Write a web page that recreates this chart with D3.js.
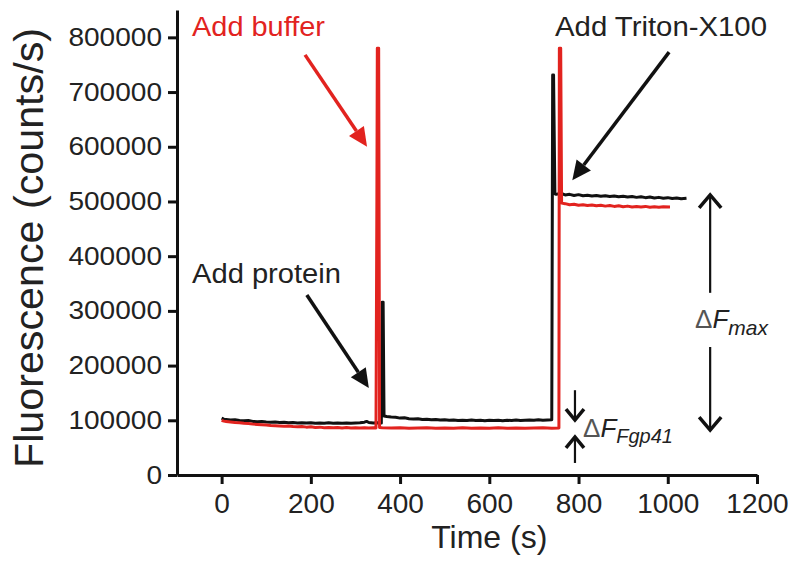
<!DOCTYPE html>
<html>
<head>
<meta charset="utf-8">
<script src="https://cdn.jsdelivr.net/npm/d3@7"></script>
<style>
  html, body { margin: 0; padding: 0; background: #fff; }
  svg { display: block; }
  text { font-family: "Liberation Sans", Arial, sans-serif; }
</style>
</head>
<body>
<svg id="chart" width="799" height="567"></svg>
<script>
// ---------- DATA ----------
const xTickValues = [0, 200, 400, 600, 800, 1000, 1200];
const yTickValues = [0, 100000, 200000, 300000, 400000, 500000, 600000, 700000, 800000];

// Black trace (protein sample): [time (s), fluorescence (counts/s)]
const blackTime = [0,5,10,20,30,40,50,60,70,80,90,100,110,120,130,140,150,160,170,180,190,200,210,220,230,240,250,260,270,280,290,300,310,320,325,330,340,350,358,
  360,362,364,
  370,380,390,400,410,420,430,440,450,460,470,480,490,500,510,520,530,540,550,560,570,580,590,600,610,620,630,640,650,660,670,680,690,700,710,720,730,740,
  742,744,747,
  750,760,770,780,790,800,810,820,830,840,850,860,870,880,890,900,910,920,930,940,950,960,970,980,990,1000,1010,1020,1030,1042];
const blackValue = [104000,102000,101500,100500,101000,99500,99000,99500,98000,97500,98000,97000,96500,97000,96000,96500,95500,96000,95000,95500,95000,95500,94500,95000,94500,95500,94500,95000,94500,95000,94500,95000,95500,96500,98000,96000,95000,95500,95000,
  316000,316000,108000,
  107000,106000,105500,104000,104500,103000,102500,103000,101500,102000,101000,101500,100500,101000,100000,100500,99500,100000,99500,100500,99500,100000,99000,100000,99500,100000,99000,100000,99500,100500,99500,100000,100500,100000,101000,100000,100500,101000,
  731000,731000,514000,
  513000,515000,512000,513000,511000,512500,510500,511500,510000,511000,509500,510500,509000,510000,508500,509500,508000,509000,507500,508500,507000,508000,506500,507500,506000,507000,505500,506500,505000,506000];

// Red trace (buffer control)
const redTime = [0,5,10,20,30,40,50,60,70,80,90,100,110,120,130,140,150,160,170,180,190,200,210,220,230,240,250,260,270,280,290,300,310,320,330,340,346,
  348,349,352,354,
  360,380,400,420,440,460,480,500,520,540,560,580,600,620,640,660,680,700,720,740,756,
  757,760,762,
  770,780,790,800,810,820,830,840,850,860,870,880,890,900,910,920,930,940,950,960,970,980,990,1005];
const redValue = [100000,98500,98000,97000,96000,95500,94500,94000,93000,92500,92000,91500,90500,90000,89500,89000,89500,88500,88000,88500,87500,88000,87000,87500,86500,87000,86500,87000,86000,87000,86000,86500,86000,86500,86000,86500,86000,
  500000,780000,780000,87000,
  86500,86000,86500,85500,86000,86500,85500,86000,85500,86500,85500,86000,85500,86500,85500,86000,85500,86000,86500,85500,86000,
  780000,780000,497000,
  496000,494000,495000,493000,494000,492500,493500,492000,493000,491500,492500,491000,492000,490500,491500,490000,491000,490000,491000,489500,490500,489500,490500,490000];

// ---------- LAYOUT ----------
const svg = d3.select("#chart");
const RED = "#e2231f";
const BLACK = "#111111";

const x = d3.scaleLinear().domain([-100, 1200]).range([177, 757]);
const y = d3.scaleLinear().domain([0, 850000]).range([475, 10]);

// y axis
const yAxis = svg.append("g")
  .attr("transform", `translate(${x(-100)},0)`)
  .call(d3.axisLeft(y).tickValues(yTickValues).tickSize(9).tickSizeOuter(0).tickPadding(6).tickFormat(d3.format("d")));
yAxis.select(".domain").attr("stroke", BLACK).attr("stroke-width", 3);
yAxis.selectAll(".tick line").attr("stroke", BLACK).attr("stroke-width", 3);
yAxis.selectAll(".tick text")
  .attr("fill", "#222")
  .style("font-size", "25px")
  .attr("textLength", d => String(d).length * 15.6)
  .attr("lengthAdjust", "spacingAndGlyphs");

// x axis
const xAxis = svg.append("g")
  .attr("transform", `translate(0,${y(0)})`)
  .call(d3.axisBottom(x).tickValues(xTickValues).tickSize(9).tickSizeOuter(0).tickPadding(9).tickFormat(d3.format("d")));
xAxis.select(".domain").attr("stroke", BLACK).attr("stroke-width", 3);
xAxis.selectAll(".tick line").attr("stroke", BLACK).attr("stroke-width", 3);
xAxis.selectAll(".tick text").attr("fill", "#222").style("font-size", "28px");

// axis titles
svg.append("text")
  .attr("x", x(600)).attr("y", 548)
  .attr("text-anchor", "middle")
  .attr("fill", "#222")
  .style("font-size", "32px")
  .text("Time (s)");

svg.append("text")
  .attr("transform", `translate(43,248) rotate(-90)`)
  .attr("text-anchor", "middle")
  .attr("fill", "#222")
  .style("font-size", "40px")
  .attr("textLength", 440)
  .attr("lengthAdjust", "spacingAndGlyphs")
  .text("Fluorescence (counts/s)");

// traces
const line = d3.line().x(d => x(d[0])).y(d => y(d[1]));
const blackData = blackTime.map((t, i) => [t, blackValue[i]]);
const redData = redTime.map((t, i) => [t, redValue[i]]);

svg.append("path").datum(blackData)
  .attr("fill", "none").attr("stroke", BLACK).attr("stroke-width", 3)
  .attr("stroke-linejoin", "round").attr("d", line);
svg.append("path").datum(redData)
  .attr("fill", "none").attr("stroke", RED).attr("stroke-width", 3)
  .attr("stroke-linejoin", "round").attr("d", line);

// ---------- ANNOTATIONS ----------
function arrow(t0, v0, t1, v1, color, width) {
  const x0 = x(t0), y0 = y(v0), x1 = x(t1), y1 = y(v1);
  const ang = Math.atan2(y1 - y0, x1 - x0);
  const L = 19, W = 9;
  const bx = x1 - L * Math.cos(ang), by = y1 - L * Math.sin(ang);
  svg.append("line").attr("x1", x0).attr("y1", y0).attr("x2", bx).attr("y2", by)
    .attr("stroke", color).attr("stroke-width", width);
  const px = -Math.sin(ang), py = Math.cos(ang);
  svg.append("polygon")
    .attr("points", [[x1, y1], [bx + W * px, by + W * py], [bx - W * px, by - W * py]].map(p => p.join(",")).join(" "))
    .attr("fill", color);
}
function chevronArrow(t, vFrom, vTip, color, hw, hh) {
  const x0 = x(t), y0 = y(vFrom), y1 = y(vTip);
  const dir = y1 > y0 ? 1 : -1;
  svg.append("line").attr("x1", x0).attr("y1", y0).attr("x2", x0).attr("y2", y1 - dir * 1)
    .attr("stroke", color).attr("stroke-width", 2.2);
  svg.append("polyline")
    .attr("points", `${x0 - hw},${y1 - dir * hh} ${x0},${y1} ${x0 + hw},${y1 - dir * hh}`)
    .attr("fill", "none").attr("stroke", color).attr("stroke-width", 3.5)
    .attr("stroke-linejoin", "miter");
}

// "Add buffer"
svg.append("text").attr("x", 192).attr("y", 36).attr("fill", RED)
  .style("font-size", "27px").attr("textLength", 133).attr("lengthAdjust", "spacingAndGlyphs").text("Add buffer");
arrow(187, 768000, 326, 600000, RED, 3.5);

// "Add protein"
svg.append("text").attr("x", 192).attr("y", 283).attr("fill", "#222")
  .style("font-size", "27px").attr("textLength", 149).attr("lengthAdjust", "spacingAndGlyphs").text("Add protein");
arrow(191, 329000, 330, 159000, BLACK, 3.5);

// "Add Triton-X100"
svg.append("text").attr("x", 555).attr("y", 36).attr("fill", "#222")
  .style("font-size", "27px").attr("textLength", 212).attr("lengthAdjust", "spacingAndGlyphs").text("Add Triton-X100");
arrow(1003, 773000, 786, 539000, BLACK, 3.5);

// ΔFmax
chevronArrow(1095, 333000, 512000, BLACK, 11, 13);
chevronArrow(1095, 234000, 82000, BLACK, 11, 13);
const tmax = svg.append("text").attr("x", 695).attr("y", 328).attr("fill", "#222").style("font-size", "26px");
tmax.append("tspan").attr("fill", "#555").text("Δ");
tmax.append("tspan").style("font-style", "italic").text("F");
tmax.append("tspan").style("font-style", "italic").style("font-size", "21px").attr("dy", 7).text("max");

// ΔF Fgp41
chevronArrow(792, 155000, 100500, BLACK, 9, 11);
chevronArrow(792, 22000, 69500, BLACK, 9, 11);
const tg = svg.append("text").attr("x", 583).attr("y", 437).attr("fill", "#222").style("font-size", "26px");
tg.append("tspan").attr("fill", "#555").text("Δ");
tg.append("tspan").style("font-style", "italic").text("F");
tg.append("tspan").style("font-style", "italic").style("font-size", "20px").attr("dy", 6).text("Fgp41");
</script>
</body>
</html>
